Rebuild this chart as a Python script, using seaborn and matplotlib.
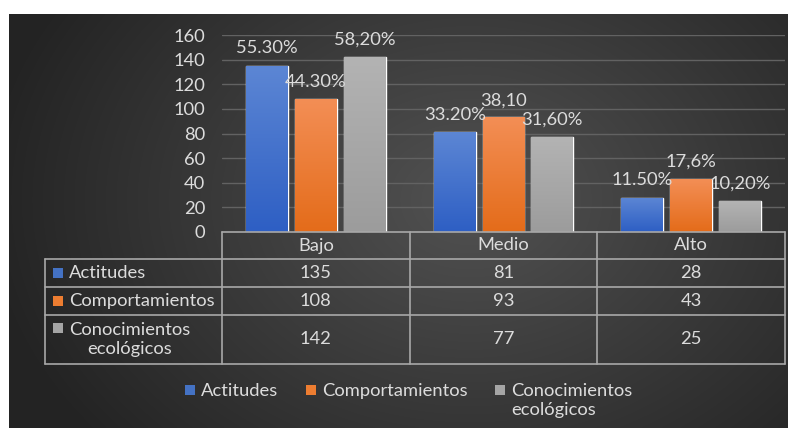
import numpy as np
import pandas as pd
import matplotlib
matplotlib.use("Agg")
import matplotlib.pyplot as plt
import matplotlib.transforms as mtransforms
from matplotlib.patches import Rectangle
from matplotlib.colors import to_rgb
import seaborn as sns

# ---- data -------------------------------------------------------------
categories = ["Bajo", "Medio", "Alto"]
series = ["Actitudes", "Comportamientos", "Conocimientos ecológicos"]
actitudes = [135, 81, 28]
comportamientos = [108, 93, 43]
conocimientos = [142, 77, 25]
labels_actitudes = ["55.30%", "33.20%", "11.50%"]
labels_comportamientos = ["44.30%", "38,10", "17,6%"]
labels_conocimientos = ["58,20%", "31,60%", "10,20%"]
yticks = [0, 20, 40, 60, 80, 100, 120, 140, 160]

values = [actitudes, comportamientos, conocimientos]
point_labels = [labels_actitudes, labels_comportamientos, labels_conocimientos]

df = pd.DataFrame({
    "Nivel": [c for _ in series for c in categories],
    "Serie": [s for s in series for _ in categories],
    "Frecuencia": [v for vals in values for v in vals],
})

# ---- style ------------------------------------------------------------
sns.set_theme(style="dark")
plt.rcParams["font.family"] = ["Lato", "DejaVu Sans"]
TXT = "#dcdcdc"
LINE = "#a8a8a8"
FS = 13.2
base_colors = ["#4472c4", "#ed7d31", "#a5a5a5"]
grad_top = ["#5c86d4", "#f38e55", "#b3b3b3"]
grad_bot = ["#2e5fc4", "#e46c1a", "#9c9c9c"]

W, H = 795, 429
fig = plt.figure(figsize=(W / 100, H / 100), dpi=100)
fig.patch.set_facecolor("white")

# dark panel with a soft radial light in the middle
bg = fig.add_axes([0, 0, 1, 1], zorder=0)
bg.set_xlim(0, W)
bg.set_ylim(H, 0)
bg.axis("off")
x0, x1, y0, y1 = 9, 788, 14, 428
xs = np.linspace(x0, x1, 400)
ys = np.linspace(y0, y1, 220)
XX, YY = np.meshgrid(xs, ys)
r = np.sqrt(((XX - 470) / 430) ** 2 + ((YY - 200) / 330) ** 2)
shade = np.clip(0.32 - 0.16 * r, 0.14, 0.33)
bg.imshow(np.dstack([shade, shade, shade]), extent=[x0, x1, y1, y0],
          aspect="auto", interpolation="bilinear", zorder=0)
bg.set_xlim(0, W)
bg.set_ylim(H, 0)

# ---- bar chart --------------------------------------------------------
ax = fig.add_axes([222 / W, 1 - 232 / H, 563 / W, 197 / H], zorder=1)
ax.set_facecolor("none")
sns.barplot(data=df, x="Nivel", y="Frecuencia", hue="Serie",
            hue_order=series, order=categories, palette=base_colors,
            saturation=1, width=0.78, gap=0.14, legend=False,
            errorbar=None, ax=ax)
ax.set_xlim(-0.5, 2.5)
ax.set_ylim(0, 160)
ax.set_yticks(yticks)
ax.set_xticks([])
ax.set_xlabel("")
ax.set_ylabel("")
ax.yaxis.grid(True, color="#626262", linewidth=1.0)
ax.xaxis.grid(False)
ax.set_axisbelow(True)
for sp in ax.spines.values():
    sp.set_visible(False)
ax.tick_params(axis="y", length=0, pad=12, labelcolor=TXT, labelsize=FS)

# vertical gradient fill on every bar, plus its value label
bars = list(ax.patches)
for i, s in enumerate(series):
    top = np.array(to_rgb(grad_top[i]))
    bot = np.array(to_rgb(grad_bot[i]))
    t = np.linspace(0, 1, 64)[:, None]
    grad = (top * (1 - t) + bot * t)[:, None, :]
    for j, c in enumerate(categories):
        p = bars[i * len(categories) + j]
        bx, bw, bh = p.get_x(), p.get_width(), p.get_height()
        im = ax.imshow(grad, extent=[bx, bx + bw, 0, bh], aspect="auto",
                       interpolation="bilinear", zorder=p.get_zorder() + 0.1)
        im.set_clip_path(p)
        ax.annotate(point_labels[i][j], xy=(bx + bw / 2, bh),
                    xytext=(0, 12.5), textcoords="offset points",
                    ha="center", va="center", color=TXT, fontsize=FS,
                    zorder=5)
ax.set_xlim(-0.5, 2.5)
ax.set_ylim(0, 160)

# ---- data table under the axis ----------------------------------------
ov = fig.add_axes([0, 0, 1, 1], zorder=3)
ov.set_xlim(0, W)
ov.set_ylim(H, 0)
ov.axis("off")
ov.patch.set_alpha(0)
mix = mtransforms.blended_transform_factory(ax.transData, ov.transData)

rows_y = [232, 259, 287, 315, 364]
lab_left = 45
lw = 1.2

# header row over the categories
ov.plot([-0.5, 2.5], [rows_y[0], rows_y[0]], color=LINE, lw=lw,
        transform=mix, clip_on=False)
for b in [-0.5, 0.5, 1.5, 2.5]:
    ov.plot([b, b], [rows_y[0], rows_y[-1]], color=LINE, lw=lw,
            transform=mix, clip_on=False)
for j, c in enumerate(categories):
    ov.text(j, (rows_y[0] + rows_y[1]) / 2, c, transform=mix, ha="center",
            va="center", color=TXT, fontsize=FS)

# body rows spanning the series name column
right_px = ax.transData.transform((2.5, 0))[0]
for yy in rows_y[1:]:
    ov.plot([lab_left, right_px], [yy, yy], color=LINE, lw=lw)
ov.plot([lab_left, lab_left], [rows_y[1], rows_y[-1]], color=LINE, lw=lw)

for i, s in enumerate(series):
    ytop, ybot = rows_y[i + 1], rows_y[i + 2]
    yc = (ytop + ybot) / 2
    for j, v in enumerate(values[i]):
        ov.text(j, yc, str(v), transform=mix, ha="center", va="center",
                color=TXT, fontsize=FS)
    if " " in s:
        first_line = ytop + 13
        ov.add_patch(Rectangle((53, first_line - 5), 10, 10,
                               color=base_colors[i], lw=0))
        ov.text(130, yc, s.replace(" ", "\n"), ha="center", va="center",
                multialignment="center", linespacing=1.22, color=TXT,
                fontsize=FS)
    else:
        ov.add_patch(Rectangle((53, yc - 5), 10, 10, color=base_colors[i],
                               lw=0))
        ov.text(69, yc, s, ha="left", va="center", color=TXT, fontsize=FS)

# ---- legend -------------------------------------------------------------
leg_y = 390
leg_marker_x = [185, 306, 495]
for i, s in enumerate(series):
    mx = leg_marker_x[i]
    ov.add_patch(Rectangle((mx, leg_y - 5), 10, 10, color=base_colors[i],
                           lw=0))
    ov.text(mx + 16, leg_y - 7, s.replace(" ", "\n") if " " in s else s,
            ha="left", va="top", linespacing=1.22, color=TXT, fontsize=FS)

fig.savefig("out.png", dpi=100, facecolor=fig.get_facecolor())
